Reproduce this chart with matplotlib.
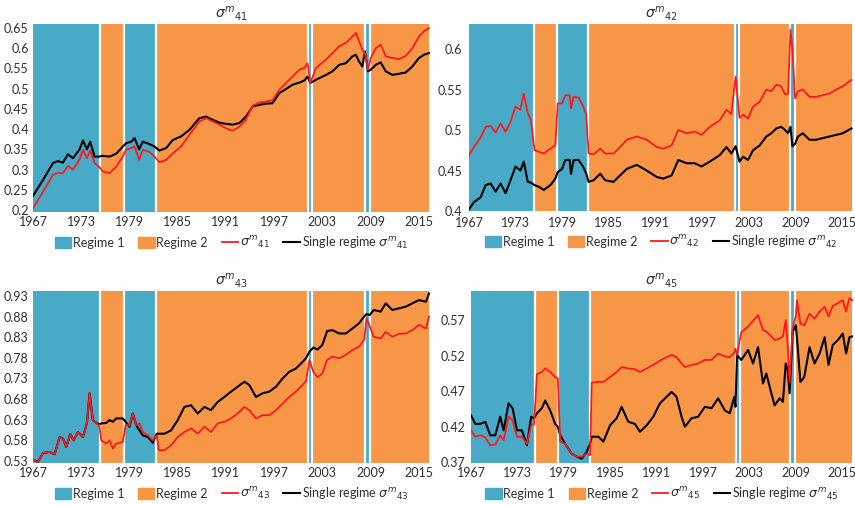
import matplotlib
matplotlib.use("Agg")
import matplotlib.pyplot as plt
from matplotlib.patches import Patch
from matplotlib.lines import Line2D

plt.rcParams['font.family'] = ['Lato', 'DejaVu Sans']
plt.rcParams['mathtext.fontset'] = 'dejavusans'

BLUE = '#48aac7'
ORANGE = '#f79646'
RED = '#ff1a1a'
TXT = '#303030'

# regime switch dates and which regime each stretch belongs to
switches = [1967.0, 1975.3, 1978.3, 1982.35, 2001.25, 2001.75, 2008.25, 2008.95, 2016.3]
regimes = [1, 2, 1, 2, 1, 2, 1, 2]

# sigma^m_41
yr41 = [1967.0, 1968.24, 1969.48, 1970.11, 1970.73, 1971.35, 1971.97, 1972.8, 1973.21, 1973.71,
        1974.12, 1974.66, 1975.2, 1975.7, 1976.52, 1977.35, 1978.18, 1978.59, 1979.22, 1979.63,
        1980.2, 1980.66, 1981.49, 1982.11, 1982.73, 1983.56, 1984.39, 1985.43, 1986.46, 1987.7,
        1988.53, 1989.36, 1990.19, 1991.01, 1991.84, 1992.67, 1993.5, 1994.33, 1995.16, 1995.99,
        1996.81, 1997.64, 1998.47, 1999.3, 2000.13, 2000.75, 2001.16, 2001.5, 2002.2, 2003.44,
        2004.27, 2005.1, 2005.92, 2006.75, 2007.17, 2007.58, 2007.99, 2008.3, 2008.7, 2009.03,
        2009.65, 2010.27, 2010.89, 2011.72, 2012.55, 2013.38, 2014.2, 2015.03, 2015.65, 2016.28]
s41 = [0.204, 0.245, 0.287, 0.292, 0.291, 0.309, 0.300, 0.325, 0.349, 0.328,
       0.347, 0.316, 0.307, 0.295, 0.291, 0.307, 0.332, 0.350, 0.353, 0.357,
       0.324, 0.349, 0.344, 0.332, 0.318, 0.324, 0.340, 0.357, 0.386, 0.419,
       0.427, 0.419, 0.411, 0.402, 0.396, 0.406, 0.423, 0.458, 0.466, 0.468,
       0.472, 0.497, 0.514, 0.530, 0.547, 0.551, 0.563, 0.514, 0.551, 0.572,
       0.588, 0.605, 0.613, 0.629, 0.638, 0.617, 0.596, 0.588, 0.547, 0.576,
       0.600, 0.609, 0.580, 0.576, 0.573, 0.581, 0.600, 0.629, 0.642, 0.650]
s41_single = [0.235, 0.274, 0.316, 0.321, 0.317, 0.338, 0.328, 0.350, 0.372, 0.350,
              0.369, 0.332, 0.332, 0.334, 0.332, 0.339, 0.357, 0.365, 0.369, 0.378,
              0.350, 0.369, 0.363, 0.357, 0.347, 0.353, 0.373, 0.382, 0.398, 0.427,
              0.431, 0.423, 0.416, 0.413, 0.411, 0.415, 0.431, 0.456, 0.460, 0.463,
              0.464, 0.489, 0.499, 0.510, 0.515, 0.520, 0.530, 0.514, 0.522, 0.534,
              0.543, 0.559, 0.563, 0.580, 0.584, 0.567, 0.555, 0.592, 0.543, 0.547,
              0.559, 0.565, 0.543, 0.534, 0.537, 0.540, 0.555, 0.576, 0.584, 0.588]

# sigma^m_42
yr42 = [1967.0, 1967.64, 1968.5, 1969.14, 1969.78, 1970.42, 1971.06, 1971.7, 1972.34, 1972.98,
        1973.62, 1974.05, 1974.56, 1974.99, 1975.42, 1975.97, 1976.62, 1977.47, 1978.11, 1978.41,
        1978.97, 1979.39, 1979.95, 1980.12, 1980.46, 1981.1, 1981.66, 1982.09, 1982.38, 1983.03,
        1983.88, 1984.52, 1985.59, 1986.44, 1987.3, 1988.58, 1989.86, 1991.15, 1992.0, 1993.07,
        1993.92, 1994.99, 1996.06, 1996.91, 1997.98, 1999.26, 2000.12, 2000.75, 2001.3, 2001.8,
        2002.26, 2002.9, 2003.54, 2004.39, 2005.25, 2005.89, 2006.53, 2007.17, 2007.65, 2008.05,
        2008.35, 2008.6, 2008.95, 2009.31, 2009.95, 2010.8, 2011.66, 2012.5, 2013.36, 2014.22,
        2015.08, 2016.2]
s42 = [0.469, 0.479, 0.491, 0.504, 0.505, 0.497, 0.508, 0.498, 0.510, 0.529,
       0.525, 0.545, 0.521, 0.512, 0.475, 0.473, 0.471, 0.477, 0.481, 0.533,
       0.533, 0.543, 0.543, 0.527, 0.541, 0.540, 0.530, 0.519, 0.471, 0.470,
       0.477, 0.471, 0.471, 0.479, 0.488, 0.492, 0.488, 0.479, 0.477, 0.481,
       0.500, 0.496, 0.498, 0.494, 0.504, 0.512, 0.525, 0.520, 0.566, 0.515,
       0.519, 0.514, 0.529, 0.535, 0.550, 0.548, 0.556, 0.554, 0.544, 0.545,
       0.624, 0.600, 0.539, 0.548, 0.550, 0.541, 0.541, 0.543, 0.545, 0.550,
       0.554, 0.562]
s42_single = [0.402, 0.411, 0.417, 0.432, 0.434, 0.424, 0.434, 0.422, 0.438, 0.455,
              0.450, 0.461, 0.436, 0.435, 0.432, 0.430, 0.426, 0.432, 0.440, 0.448,
              0.452, 0.463, 0.463, 0.446, 0.463, 0.463, 0.455, 0.446, 0.436, 0.438,
              0.446, 0.438, 0.436, 0.444, 0.452, 0.457, 0.450, 0.442, 0.440, 0.444,
              0.463, 0.459, 0.459, 0.455, 0.461, 0.469, 0.479, 0.471, 0.480, 0.461,
              0.467, 0.463, 0.475, 0.481, 0.492, 0.496, 0.502, 0.504, 0.500, 0.496,
              0.504, 0.480, 0.483, 0.492, 0.496, 0.488, 0.488, 0.490, 0.492, 0.494,
              0.496, 0.502]

# sigma^m_43
yr43 = [1967.0, 1967.62, 1968.24, 1969.07, 1969.69, 1970.31, 1970.73, 1971.14, 1971.64, 1972.05,
        1972.59, 1973.21, 1973.71, 1974.04, 1974.45, 1974.87, 1975.28, 1975.49, 1976.11, 1976.52,
        1976.94, 1977.35, 1978.18, 1978.51, 1979.01, 1979.42, 1979.84, 1980.25, 1980.66, 1981.29,
        1981.91, 1982.4, 1982.65, 1983.36, 1984.18, 1985.01, 1985.84, 1986.67, 1987.5, 1988.33,
        1989.15, 1989.98, 1990.81, 1991.64, 1992.47, 1993.29, 1993.92, 1994.74, 1995.57, 1996.4,
        1997.23, 1998.06, 1998.88, 1999.71, 2000.54, 2001.0, 2001.4, 2001.9, 2002.4, 2003.0,
        2003.6, 2004.27, 2005.1, 2005.92, 2006.75, 2007.58, 2008.2, 2008.5, 2008.9, 2009.4,
        2010.27, 2010.89, 2011.72, 2012.55, 2013.38, 2014.2, 2015.03, 2015.9, 2016.28]
s43 = [0.533, 0.528, 0.549, 0.552, 0.546, 0.588, 0.584, 0.564, 0.595, 0.580,
       0.600, 0.588, 0.621, 0.694, 0.629, 0.622, 0.613, 0.580, 0.572, 0.580,
       0.560, 0.572, 0.576, 0.617, 0.617, 0.645, 0.617, 0.621, 0.600, 0.592,
       0.580, 0.592, 0.556, 0.556, 0.568, 0.588, 0.600, 0.609, 0.596, 0.613,
       0.600, 0.621, 0.625, 0.633, 0.645, 0.661, 0.653, 0.633, 0.641, 0.641,
       0.653, 0.669, 0.685, 0.698, 0.714, 0.725, 0.775, 0.745, 0.733, 0.742,
       0.775, 0.783, 0.779, 0.787, 0.799, 0.807, 0.823, 0.876, 0.856, 0.831,
       0.827, 0.843, 0.831, 0.838, 0.839, 0.847, 0.860, 0.851, 0.880]
s43_single = [0.533, 0.528, 0.549, 0.552, 0.546, 0.588, 0.584, 0.564, 0.595, 0.580,
              0.600, 0.588, 0.621, 0.694, 0.629, 0.622, 0.619, 0.621, 0.622, 0.629,
              0.625, 0.633, 0.633, 0.625, 0.613, 0.645, 0.617, 0.604, 0.592, 0.588,
              0.574, 0.596, 0.596, 0.596, 0.604, 0.629, 0.661, 0.665, 0.645, 0.661,
              0.653, 0.673, 0.685, 0.698, 0.710, 0.722, 0.714, 0.685, 0.694, 0.698,
              0.710, 0.730, 0.746, 0.754, 0.770, 0.780, 0.795, 0.805, 0.800, 0.811,
              0.845, 0.847, 0.839, 0.839, 0.851, 0.864, 0.880, 0.886, 0.884, 0.896,
              0.892, 0.912, 0.896, 0.900, 0.904, 0.912, 0.920, 0.916, 0.936]

# sigma^m_45
yr45 = [1967.0, 1967.56, 1968.2, 1968.85, 1969.49, 1970.14, 1970.78, 1971.22, 1971.86, 1972.38,
        1972.94, 1973.58, 1974.23, 1974.78, 1975.17, 1975.52, 1976.16, 1976.59, 1977.24, 1977.88,
        1978.23, 1978.53, 1979.17, 1980.03, 1980.68, 1981.32, 1981.97, 1982.4, 1982.61, 1983.47,
        1984.12, 1984.98, 1985.84, 1986.48, 1987.34, 1988.2, 1988.85, 1989.71, 1990.57, 1991.43,
        1992.29, 1992.94, 1993.58, 1994.23, 1994.66, 1995.52, 1996.37, 1997.24, 1998.1, 1998.96,
        1999.82, 2000.46, 2001.05, 2001.2, 2001.4, 2001.95, 2002.83, 2003.47, 2004.12, 2004.76,
        2005.19, 2005.84, 2006.27, 2006.91, 2007.34, 2007.7, 2007.95, 2008.2, 2008.6, 2009.0,
        2009.15, 2009.6, 2010.1, 2010.78, 2011.43, 2012.08, 2012.73, 2013.23, 2013.78, 2014.44,
        2015.08, 2015.51, 2015.94, 2016.29]
s45 = [0.415, 0.406, 0.408, 0.405, 0.394, 0.395, 0.408, 0.401, 0.434, 0.429,
       0.406, 0.406, 0.396, 0.422, 0.424, 0.494, 0.497, 0.502, 0.497, 0.490,
       0.488, 0.399, 0.396, 0.382, 0.378, 0.378, 0.382, 0.380, 0.482, 0.483,
       0.483, 0.490, 0.497, 0.504, 0.502, 0.501, 0.497, 0.502, 0.507, 0.513,
       0.518, 0.521, 0.518, 0.509, 0.504, 0.507, 0.509, 0.514, 0.514, 0.523,
       0.519, 0.518, 0.524, 0.530, 0.521, 0.553, 0.561, 0.569, 0.577, 0.556,
       0.554, 0.547, 0.542, 0.544, 0.547, 0.570, 0.535, 0.483, 0.559, 0.575,
       0.598, 0.565, 0.563, 0.579, 0.572, 0.582, 0.589, 0.575, 0.590, 0.594,
       0.598, 0.582, 0.601, 0.598]
s45_single = [0.436, 0.424, 0.424, 0.427, 0.408, 0.408, 0.434, 0.415, 0.453, 0.446,
              0.415, 0.415, 0.394, 0.434, 0.432, 0.439, 0.446, 0.457, 0.443, 0.424,
              0.420, 0.408, 0.396, 0.382, 0.378, 0.375, 0.385, 0.396, 0.406, 0.406,
              0.399, 0.422, 0.432, 0.448, 0.427, 0.424, 0.413, 0.422, 0.434, 0.453,
              0.462, 0.469, 0.462, 0.434, 0.420, 0.432, 0.434, 0.448, 0.446, 0.460,
              0.443, 0.439, 0.462, 0.448, 0.521, 0.514, 0.528, 0.509, 0.532, 0.481,
              0.495, 0.467, 0.450, 0.460, 0.455, 0.509, 0.500, 0.467, 0.553, 0.563,
              0.545, 0.483, 0.490, 0.532, 0.509, 0.523, 0.546, 0.507, 0.535, 0.542,
              0.551, 0.523, 0.546, 0.547]

years = list(range(1967, 2016, 6))

fig = plt.figure(figsize=(8.55, 5.05), dpi=100)
W, H = 855, 505


def panel(l, r, t, b, x, red, black, sub, ylim, yticks, yfmt, ypad=3, xpad=3):
    ax = fig.add_axes([l / W, (H - b) / H, (r - l) / W, (b - t) / H])
    for i, reg in enumerate(regimes):
        ax.axvspan(switches[i], switches[i + 1], color=BLUE if reg == 1 else ORANGE, lw=0, zorder=0)
    for s in switches[1:-1]:
        ax.axvline(s, color='white', lw=1.6, zorder=1)
    ax.plot(x, red, color=RED, lw=1.3, zorder=3)
    ax.plot(x, black, color='black', lw=1.5, zorder=2)
    ax.set_xlim(1967, 2016.4)
    ax.set_ylim(*ylim)
    ax.set_xticks(years)
    ax.set_yticks(yticks)
    ax.set_yticklabels([yfmt(v) for v in yticks])
    ax.tick_params(length=0, labelsize=9, colors=TXT)
    ax.tick_params(axis='x', pad=xpad)
    ax.tick_params(axis='y', pad=ypad)
    for sp in ax.spines.values():
        sp.set_visible(False)
    lab = r'$\sigma^{m}{}_{%s}$' % sub
    ax.set_title(lab, fontsize=10, color=TXT, pad=4)
    handles = [Patch(color=BLUE, label='Regime 1'),
               Patch(color=ORANGE, label='Regime 2'),
               Line2D([], [], color=RED, lw=1.3, label=lab),
               Line2D([], [], color='black', lw=1.5, label='Single regime ' + lab)]
    # legend sits about 30 px under the plot area
    ax.legend(handles=handles, loc='center', bbox_to_anchor=(0.5, -31.0 / (b - t)), ncol=4,
              frameon=False, fontsize=9, handlelength=1.3, handleheight=0.9,
              handletextpad=0.15, columnspacing=1.1, labelcolor=TXT, borderpad=0)
    return ax


def short(v):
    return ('%.2f' % v).rstrip('0').rstrip('.')


panel(33, 430, 24, 212, yr41, s41, s41_single, '41', (0.195, 0.66),
      [0.2, 0.25, 0.3, 0.35, 0.4, 0.45, 0.5, 0.55, 0.6, 0.65], short)
panel(469, 853, 24, 211, yr42, s42, s42_single, '42', (0.4, 0.631),
      [0.4, 0.45, 0.5, 0.55, 0.6], short, ypad=5, xpad=4.5)
panel(33, 430, 291, 463, yr43, s43, s43_single, '43', (0.525, 0.942),
      [0.53, 0.58, 0.63, 0.68, 0.73, 0.78, 0.83, 0.88, 0.93], lambda v: '%.2f' % v)
panel(471, 853, 291, 463, yr45, s45, s45_single, '45', (0.369, 0.611),
      [0.37, 0.42, 0.47, 0.52, 0.57], lambda v: '%.2f' % v, ypad=4)

fig.savefig('out.png', dpi=100)
